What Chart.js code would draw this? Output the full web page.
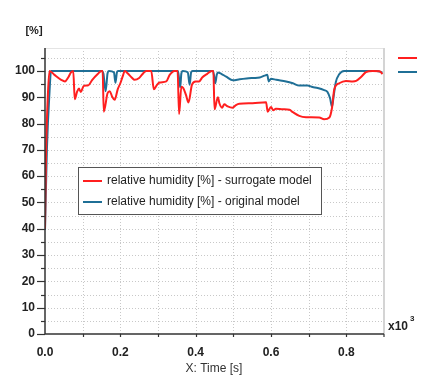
<!DOCTYPE html>
<html>
<head>
<meta charset="utf-8">
<script src="https://cdn.jsdelivr.net/npm/chart.js@4"></script>
<style>
  html, body { margin: 0; padding: 0; background: #fff; }
  #wrap { width: 424px; height: 379px; }
</style>
</head>
<body>
<div id="wrap"><canvas id="mycanvas" width="424" height="379"></canvas></div>
<script>
// time in seconds, humidity in %
var surrogateT = [0, 3, 8, 12, 25, 44, 53, 62, 69, 75, 79, 85, 90, 95, 103, 115, 125, 140, 150, 153, 156, 166, 172, 178, 185, 193, 200, 206, 212, 220, 230, 238, 250, 262, 269, 282, 289, 296, 304, 322, 331, 344, 352, 356, 362, 367, 374, 381, 390, 400, 409, 418, 430, 443, 447, 450, 459, 463, 470, 476, 485, 498, 507, 516, 551, 587, 591, 600, 606, 613, 631, 649, 658, 675, 693, 728, 741, 755, 762, 768, 781, 799, 817, 826, 839, 852, 870, 888, 896];
var surrogateRH = [40, 70, 92, 100, 98.5, 96.5, 96, 97.6, 99.4, 100, 89.2, 92, 93.3, 92, 94.3, 94.5, 96.5, 98.8, 100, 100, 84.5, 91.5, 92.3, 90.3, 89, 93, 95.3, 97.8, 100, 99, 97.5, 96.6, 97.3, 99.3, 100, 100, 93, 94.4, 95.6, 96, 98.5, 100, 100, 83.6, 94, 93.5, 91, 88, 94.7, 96, 96, 97.6, 98.8, 100, 100, 85.4, 90, 87.7, 86, 87.3, 86.5, 86, 87, 87.5, 87.7, 88.1, 84.5, 86.3, 85, 85.6, 85.4, 85.2, 84.3, 82.9, 82.4, 82.3, 81.6, 82.3, 86, 93, 95.3, 96.2, 96, 96.2, 97.7, 99.5, 100, 99.9, 98.8];

var originalT = [0, 5, 12, 16, 150, 155, 161, 166, 170, 183, 187, 191, 194, 353, 356, 359, 362, 366, 379, 384, 388, 392, 446, 449, 452, 456, 459, 468, 481, 499, 517, 535, 552, 570, 583, 590, 594, 600, 614, 640, 658, 675, 697, 710, 724, 741, 750, 757, 762, 766, 772, 781, 794, 880, 896];
var originalRH = [39.5, 70, 92, 100, 100, 99, 92.3, 99, 100, 99.5, 95.5, 99.5, 100, 100, 97, 93.8, 99, 100, 99.5, 94.7, 99.5, 100, 100, 98, 95.3, 98.5, 99.4, 98.9, 97.8, 96.4, 96.8, 97.1, 97.3, 97.5, 98.2, 98.5, 96, 97, 96.6, 96, 95.3, 94.4, 94.4, 93.9, 93.5, 92.7, 92, 89.5, 86.4, 90, 95.7, 98.7, 100, 100, 99.4];

var seriesNames = ['relative humidity [%] - surrogate model', 'relative humidity [%] - original model'];
var seriesColors = ['#ff1f1f', '#1f6f96'];
var xTicks = [0, 200, 400, 600, 800];

function toPoints(t, v) {
	var pts = [];
	for (var i in t) pts.push({x: t[i], y: v[i]});
	return pts;
}

/* grid, axes, minor ticks and the extra texts */
var decor = {
	id: 'decor',
	beforeDatasetsDraw: function(chart) {
		var c = chart.ctx, a = chart.chartArea;
		var xs = chart.scales.x, ys = chart.scales.y;
		c.save();
		c.strokeStyle = '#c8c8c8';
		c.lineWidth = 1;
		c.setLineDash([1, 2]);
		for (var v = 5; v < 109; v += 5) {
			var py = Math.round(ys.getPixelForValue(v)) + 0.5;
			c.beginPath(); c.moveTo(a.left, py); c.lineTo(a.right, py); c.stroke();
		}
		for (var t = 100; t < 900; t += 100) {
			var px = Math.round(xs.getPixelForValue(t)) + 0.5;
			c.beginPath(); c.moveTo(px, a.top); c.lineTo(px, a.bottom); c.stroke();
		}
		c.setLineDash([]);
		// frame
		c.strokeStyle = '#e4e4e4';
		c.beginPath(); c.moveTo(a.left, a.top + 0.5); c.lineTo(a.right, a.top + 0.5); c.stroke();
		c.strokeStyle = '#d4d4d4';
		c.lineWidth = 2;
		c.beginPath(); c.moveTo(a.right, a.top); c.lineTo(a.right, a.bottom); c.stroke();
		c.restore();
	},
	afterDraw: function(chart) {
		var c = chart.ctx, a = chart.chartArea;
		var xs = chart.scales.x, ys = chart.scales.y;
		c.save();
		c.strokeStyle = '#333';
		c.lineWidth = 1.5;
		c.beginPath(); c.moveTo(a.left, a.top); c.lineTo(a.left, a.bottom); c.lineTo(a.right, a.bottom); c.stroke();
		c.lineWidth = 1.2;
		for (var v = 0; v < 109; v += 5) {
			var py = Math.round(ys.getPixelForValue(v)) + 0.5;
			var len = (v % 10 === 0) ? 8 : 4;
			c.beginPath(); c.moveTo(a.left - len, py); c.lineTo(a.left, py); c.stroke();
		}
		for (var t = 100; t < 900; t += 100) {
			var px = Math.round(xs.getPixelForValue(t)) + 0.5;
			c.beginPath(); c.moveTo(px, a.bottom); c.lineTo(px, a.bottom + 3); c.stroke();
		}
		c.beginPath(); c.moveTo(a.right, a.bottom); c.lineTo(a.right, a.bottom + 3); c.stroke();

		// texts
		c.fillStyle = '#222';
		c.font = 'bold 11px "Liberation Sans"';
		c.textBaseline = 'middle';
		c.textAlign = 'center';
		c.fillText('[%]', 34, 31);
		c.textAlign = 'left';
		c.font = 'bold 12px "Liberation Sans"';
		c.fillText('x10', 388, 327);
		c.font = 'bold 8px "Liberation Sans"';
		c.fillText('3', 410, 319);
		c.font = '12px "Liberation Sans"';
		c.textAlign = 'center';
		c.fillStyle = '#333';
		c.fillText('X: Time [s]', 214, 369);

		// short lines at the right
		c.lineWidth = 2;
		for (var i = 0; i < 2; i++) {
			c.strokeStyle = seriesColors[i];
			c.beginPath(); c.moveTo(398, 58 + i * 14); c.lineTo(417, 58 + i * 14); c.stroke();
		}

		// legend box inside the plot
		c.fillStyle = '#fff';
		c.fillRect(78, 167, 243, 47);
		c.strokeStyle = '#555';
		c.lineWidth = 1;
		c.strokeRect(78.5, 167.5, 243, 47);
		c.font = '12px "Liberation Sans"';
		c.textAlign = 'left';
		c.fillStyle = '#222';
		for (var j = 0; j < 2; j++) {
			var ly = 181 + j * 21;
			c.strokeStyle = seriesColors[j];
			c.lineWidth = 2;
			c.beginPath(); c.moveTo(83, ly); c.lineTo(102, ly); c.stroke();
			c.fillText(seriesNames[j], 107, ly);
		}
		c.restore();
	}
};

var chartdata = {
	datasets: [
		{
			label: seriesNames[0],
			data: toPoints(surrogateT, surrogateRH),
			borderColor: seriesColors[0],
			borderWidth: 2,
			pointRadius: 0,
			cubicInterpolationMode: 'monotone'
		},
		{
			label: seriesNames[1],
			data: toPoints(originalT, originalRH),
			borderColor: seriesColors[1],
			borderWidth: 2,
			pointRadius: 0,
			cubicInterpolationMode: 'monotone'
		}
	]
};

var ctx = document.getElementById('mycanvas');
var lineGraph = new Chart(ctx, {
	type: 'line',
	data: chartdata,
	options: {
		responsive: false,
		animation: false,
		layout: { padding: { top: 48, right: 40, left: 0, bottom: 0 } },
		plugins: { legend: { display: false }, tooltip: { enabled: false } },
		scales: {
			x: {
				type: 'linear',
				min: 0,
				max: 900,
				grid: { display: false },
				border: { display: false },
				afterFit: function(s) { s.height = 45; },
				afterBuildTicks: function(s) { s.ticks = xTicks.map(function(v) { return {value: v}; }); },
				ticks: {
					padding: 3,
					color: '#222',
					font: { family: 'Liberation Sans', size: 12, weight: 'bold' },
					callback: function(v) { return (v / 1000).toFixed(1); }
				}
			},
			y: {
				min: 0,
				max: 108.7,
				grid: { display: false },
				border: { display: false },
				afterFit: function(s) { s.width = 45; },
				ticks: {
					stepSize: 10,
					includeBounds: false,
					padding: 2,
					color: '#222',
					font: { family: 'Liberation Sans', size: 12, weight: 'bold' }
				}
			}
		}
	},
	plugins: [decor]
});
</script>
</body>
</html>
